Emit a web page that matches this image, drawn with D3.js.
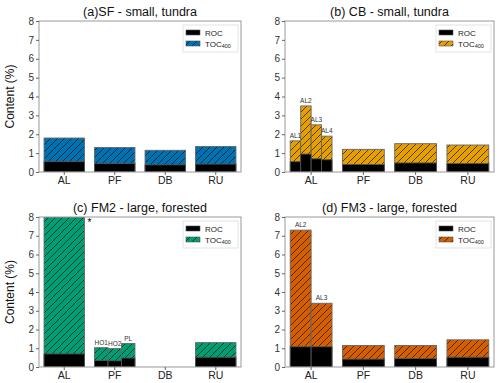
<!DOCTYPE html>
<html><head><meta charset="utf-8">
<script src="https://cdn.jsdelivr.net/npm/d3@7"></script>
<style>body{margin:0;background:#fff}svg{display:block;font-family:"Liberation Sans",Arial,sans-serif}</style>
</head><body><svg id="c" width="500" height="383"></svg>
<script>
const categories = ["AL","PF","DB","RU"];
const yTicks = [0,1,2,3,4,5,6,7,8];
const titles = ["(a)SF - small, tundra","(b) CB - small, tundra","(c) FM2 - large, forested","(d) FM3 - large, forested"];
const colors = ["#0072B2","#E69F00","#009E73","#D55E00"];
const legendLabels = ["ROC","TOC"];

// Panel (a)
const aNames = ["AL","PF","DB","RU"];
const aGroups = ["AL","PF","DB","RU"];
const aROC = [0.55,0.45,0.38,0.42];
const aTOC = [1.80,1.30,1.15,1.35];
// Panel (b)
const bNames = ["AL1","AL2","AL3","AL4","PF","DB","RU"];
const bGroups = ["AL","AL","AL","AL","PF","DB","RU"];
const bROC = [0.55,0.95,0.70,0.65,0.40,0.48,0.45];
const bTOC = [1.65,3.50,2.50,1.90,1.20,1.50,1.43];
// Panel (c)
const cNames = ["AL","HO1","HO2","PL","RU"];
const cGroups = ["AL","PF","PF","PF","RU"];
const cROC = [0.70,0.35,0.33,0.48,0.52];
const cTOC = [8.00,1.03,0.98,1.25,1.30];
// Panel (d)
const dNames = ["AL2","AL3","PF","DB","RU"];
const dGroups = ["AL","AL","PF","DB","RU"];
const dROC = [1.08,1.08,0.42,0.45,0.52];
const dTOC = [7.30,3.40,1.15,1.15,1.45];

const panels = [
  {names:aNames,groups:aGroups,roc:aROC,toc:aTOC,x0:39,x1:241,y0:21,y1:172,ylab:true},
  {names:bNames,groups:bGroups,roc:bROC,toc:bTOC,x0:285,x1:494,y0:21,y1:172,ylab:false},
  {names:cNames,groups:cGroups,roc:cROC,toc:cTOC,x0:39,x1:241,y0:217,y1:367,ylab:true,star:"AL"},
  {names:dNames,groups:dGroups,roc:dROC,toc:dTOC,x0:285,x1:494,y0:217,y1:367,ylab:false}
];

const svg = d3.select("#c");
const defs = svg.append("defs");
const hs = 7;
colors.forEach((col,i)=>{
  const p = defs.append("pattern").attr("id","h"+i).attr("patternUnits","userSpaceOnUse")
    .attr("width",hs).attr("height",hs);
  p.append("rect").attr("width",hs).attr("height",hs).attr("fill",col);
  p.append("path").attr("d",`M-1,1 L1,-1 M0,${hs} L${hs},0 M${hs-1},${hs+1} L${hs+1},${hs-1}`).attr("stroke","#111").attr("stroke-width",0.7);
});

panels.forEach((P,pi)=>{
  const g = svg.append("g");
  const x = d3.scaleBand().domain(categories).range([P.x0,P.x1]).paddingInner(0.2).paddingOuter(0.1);
  const y = d3.scaleLinear().domain([0,8]).range([P.y1,P.y0]);
  const cid = "clip"+pi;
  defs.append("clipPath").attr("id",cid).append("rect").attr("x",P.x0).attr("y",P.y0).attr("width",P.x1-P.x0).attr("height",P.y1-P.y0);
  const bars = P.names.map((n,i)=>{
    const grp = P.groups[i];
    const members = P.names.filter((_,j)=>P.groups[j]===grp);
    const k = members.indexOf(n), m = members.length;
    const w = x.bandwidth()/m;
    return {name:n,grp,sub:m>1,xs:x(grp)+k*w,w,roc:P.roc[i],toc:P.toc[i]};
  });
  const bg = g.append("g").attr("clip-path",`url(#${cid})`);
  bg.selectAll("rect.t").data(bars).join("rect").attr("class","t")
    .attr("x",d=>d.xs).attr("width",d=>d.w).attr("y",d=>y(d.toc)).attr("height",d=>y(0)-y(d.toc))
    .attr("fill",`url(#h${pi})`).attr("stroke","#666").attr("stroke-width",0.9);
  bg.selectAll("rect.r").data(bars).join("rect").attr("class","r")
    .attr("x",d=>d.xs).attr("width",d=>d.w).attr("y",d=>y(d.roc)).attr("height",d=>y(0)-y(d.roc))
    .attr("fill","#000").attr("stroke","#555").attr("stroke-width",0.9);
  g.selectAll("text.sl").data(bars.filter(d=>d.sub)).join("text").attr("class","sl")
    .attr("x",d=>d.xs+d.w/2).attr("y",d=>y(d.toc)-3).attr("text-anchor","middle")
    .attr("font-size",6.5).style("fill","#333").text(d=>d.name);
  if(P.star){
    g.append("text").attr("x",x(P.star)+x.bandwidth()+3).attr("y",P.y0+9)
      .attr("font-size",10).style("fill","#000").text("*");
  }
  g.append("rect").attr("x",P.x0).attr("y",P.y0).attr("width",P.x1-P.x0).attr("height",P.y1-P.y0)
    .attr("fill","none").attr("stroke","#999").attr("stroke-width",1);
  const ya = g.append("g").attr("transform",`translate(${P.x0},0)`)
    .call(d3.axisLeft(y).tickValues(yTicks).tickSize(3).tickPadding(2));
  ya.select(".domain").remove();
  ya.selectAll("line").attr("stroke","#666");
  ya.selectAll("text").attr("font-size",10).style("fill","#333").attr("font-family","Liberation Sans, Arial, sans-serif");
  const xa = g.append("g").attr("transform",`translate(0,${P.y1})`)
    .call(d3.axisBottom(x).tickSize(3).tickPadding(2));
  xa.select(".domain").remove();
  xa.selectAll("line").attr("stroke","#666");
  xa.selectAll("text").attr("font-size",10.5).style("fill","#222").attr("font-family","Liberation Sans, Arial, sans-serif");
  g.append("text").attr("x",(P.x0+P.x1)/2).attr("y",P.y0-5).attr("text-anchor","middle")
    .attr("font-size",12.5).style("fill","#111").text(titles[pi]);
  if(P.ylab){
    g.append("text").attr("transform",`translate(${P.x0-25},${(P.y0+P.y1)/2}) rotate(-90)`)
      .attr("text-anchor","middle").attr("font-size",12).style("fill","#111").text("Content (%)");
  }
  const lw=55, lh=27, lx=P.x1-lw-3, ly=P.y0+4;
  const lg = g.append("g");
  lg.append("rect").attr("x",lx).attr("y",ly).attr("width",lw).attr("height",lh).attr("fill","#fff").attr("stroke","#ddd").attr("stroke-width",0.8);
  lg.append("rect").attr("x",lx+3).attr("y",ly+5).attr("width",14).attr("height",5).attr("fill","#000").attr("stroke","#555").attr("stroke-width",0.6);
  lg.append("rect").attr("x",lx+3).attr("y",ly+16).attr("width",14).attr("height",5).attr("fill",`url(#h${pi})`).attr("stroke","#555").attr("stroke-width",0.6);
  lg.append("text").attr("x",lx+22).attr("y",ly+10.5).attr("font-size",8).style("fill","#222").text(legendLabels[0]);
  const t2 = lg.append("text").attr("x",lx+22).attr("y",ly+21.5).attr("font-size",8).style("fill","#222");
  t2.append("tspan").text(legendLabels[1]);
  t2.append("tspan").attr("font-size",5.5).attr("dy",1.5).text("400");
});
</script></body></html>
